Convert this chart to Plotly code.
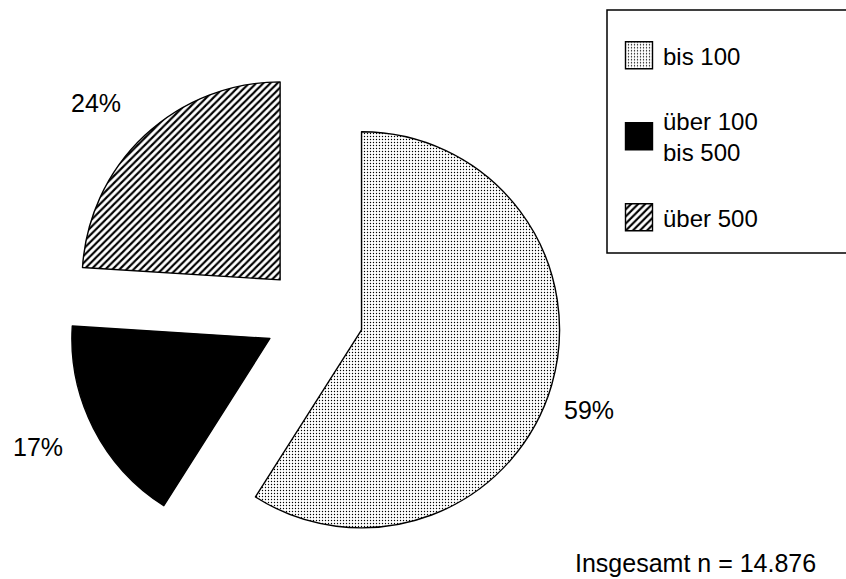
import plotly.graph_objects as go

# ---- data ----
categories = ["bis 100", "über 100<br>bis 500", "über 500"]
values = [59, 17, 24]
pulls = [0.25, 0.25, 0.25]
pattern_shapes = [".", "", "/"]
total_note = "Insgesamt n = 14.876"

# ---- layout helpers (pixel -> paper, margins are zero) ----
W, H = 846, 579
def px(x):
    return x / W
def py(y):
    return 1 - y / H

FONT = "Liberation Sans, Arial, sans-serif"

# legend entries: pad single-line entries so spacing matches
legend_names = [c if "<br>" in c else "\u00a0<br>" + c + "<br>\u00a0" for c in categories]

pie = go.Pie(
    labels=legend_names,
    values=values,
    sort=False,
    direction="clockwise",
    rotation=0,
    pull=pulls,
    textinfo="none",
    hoverinfo="label+percent",
    marker=dict(
        colors=["white", "black", "white"],
        line=dict(color="black", width=1.4),
        pattern=dict(
            shape=pattern_shapes,
            size=[3, 8, 5],
            solidity=[0.16, 0.3, 0.42],
            fgcolor="black",
            bgcolor=["white", "black", "white"],
            fillmode="replace",
        ),
    ),
    domain=dict(x=[px(314 - 247.5), px(314 + 247.5)],
                y=[py(316 + 247.5), py(316 - 247.5)]),
)

fig = go.Figure(pie)

# percentage labels (text from the values)
label_pos = [(589, 410), (38, 447), (96, 103)]
annotations = []
for v, (lx, ly) in zip(values, label_pos):
    annotations.append(dict(
        x=px(lx), y=py(ly), xref="paper", yref="paper",
        text=f"{v}%", showarrow=False, xanchor="center", yanchor="middle",
        font=dict(family=FONT, size=25, color="black"),
    ))
annotations.append(dict(
    x=px(573), y=py(563), xref="paper", yref="paper",
    text=total_note, showarrow=False, xanchor="left", yanchor="middle",
    font=dict(family=FONT, size=25, color="black"),
))

fig.update_layout(
    width=W, height=H,
    margin=dict(l=0, r=0, t=0, b=0),
    paper_bgcolor="white",
    plot_bgcolor="white",
    font=dict(family=FONT, size=24, color="black"),
    showlegend=True,
    legend=dict(
        x=px(623), y=py(2), xanchor="left", yanchor="top",
        bgcolor="rgba(0,0,0,0)", borderwidth=0,
        font=dict(family=FONT, size=24, color="black"),
        traceorder="normal",
    ),
    annotations=annotations,
    shapes=[dict(
        type="rect", xref="paper", yref="paper",
        x0=px(607), x1=px(870), y0=py(253), y1=py(10),
        line=dict(color="black", width=1.5), fillcolor="rgba(0,0,0,0)",
    )],
)

post = """
document.body.style.margin = '0';
var gd = document.getElementById('{plot_id}');
gd.querySelectorAll('path.legendpie').forEach(function(p) {
    p.setAttribute('d', 'M13.5,13.5H-13.5V-13.5H13.5Z');
    p.setAttribute('transform', 'translate(16,0)');
});
"""

fig.write_html("out.html", post_script=post, config={"displayModeBar": False})
